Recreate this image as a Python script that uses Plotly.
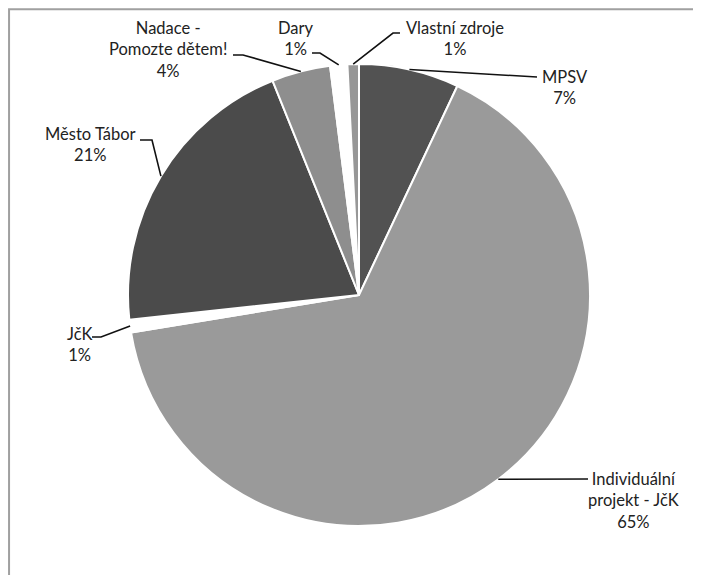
import numpy as np
import plotly.graph_objects as go

# ---- data ----
labels = ["MPSV", "Individuální projekt - JčK", "JčK", "Město Tábor",
          "Nadace - Pomozte dětem!", "Dary", "Vlastní zdroje"]
values = [7.0, 65.4, 0.9, 20.6, 4.1, 1.2, 0.8]
label_text = ["MPSV", "Individuální<br>projekt - JčK", "JčK", "Město Tábor",
              "Nadace -<br>Pomozte dětem!", "Dary", "Vlastní zdroje"]
colors = ["#525252", "#9a9a9a", "#ffffff", "#4b4b4b", "#8e8e8e", "#ffffff", "#979797"]

# ---- layout (pixels in the page; the page body adds an 8px offset) ----
W, H = 701, 575
OFF = 8
CX, CY, R = 359, 295, 231
# label block centre, elbow point, line end (page pixels)
label_pos = [(565, 87), (633, 500), (79, 344), (90, 144), (168, 50), (296, 38), (455, 38)]
elbows = [None, None, (101, 337), (152, 140), (243, 55), (320, 53), (393, 33)]
ends = [(537, 77), (588, 479), (92, 337), (140, 140), (233, 55), (312, 53), (400, 33)]

def px(x):
    return (x - OFF) / W

def py(y):
    return 1 - (y - OFF) / H

fig = go.Figure(go.Pie(
    labels=labels, values=values, sort=False, direction="clockwise", rotation=0,
    marker=dict(colors=colors, line=dict(color="white", width=2)),
    textinfo="none", hoverinfo="label+percent", showlegend=False,
    domain=dict(x=[px(CX - R), px(CX + R)], y=[py(CY + R), py(CY - R)]),
))

total = sum(values)
cum = np.cumsum([0] + values)
shapes = [dict(type="rect", xref="paper", yref="paper",
               x0=0.0015, x1=1.05, y0=-0.05, y1=0.998,
               line=dict(color="#a0a0a0", width=2), fillcolor="rgba(0,0,0,0)")]
annotations = []
for i, v in enumerate(values):
    mid = (cum[i] + v / 2) / total * 2 * np.pi
    sx = CX + R * np.sin(mid)
    sy = CY - R * np.cos(mid)
    pts = [(sx, sy)]
    if elbows[i] is not None:
        pts.append(elbows[i])
    pts.append(ends[i])
    path = "M " + " L ".join(f"{px(x):.5f},{py(y):.5f}" for x, y in pts)
    shapes.append(dict(type="path", xref="paper", yref="paper", path=path,
                       line=dict(color="#111111", width=1.6)))
    pct = round(v / total * 100)
    annotations.append(dict(
        x=px(label_pos[i][0]), y=py(label_pos[i][1]), xref="paper", yref="paper",
        text=f"{label_text[i]}<br>{pct}%", showarrow=False, align="center",
        xanchor="center", yanchor="middle",
        font=dict(family="Lato, Open Sans, sans-serif", size=16.5, color="#222222"),
    ))

fig.update_layout(
    width=W, height=H, margin=dict(l=0, r=0, t=0, b=0),
    paper_bgcolor="white", plot_bgcolor="white",
    shapes=shapes, annotations=annotations,
)
fig.write_html("out.html")
